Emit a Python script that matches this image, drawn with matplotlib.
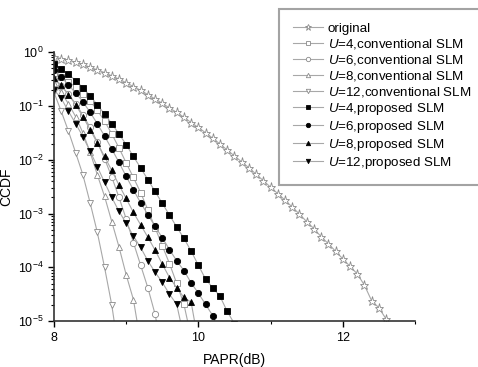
"""
CCDF of PAPR: original OFDM vs conventional / proposed SLM
"""

import numpy as np
import matplotlib
matplotlib.use("Agg")
import matplotlib.pyplot as plt

plt.rcParams["font.family"] = ["Liberation Sans", "DejaVu Sans"]
plt.rcParams["mathtext.fontset"] = "custom"
plt.rcParams["mathtext.rm"] = "Liberation Sans"
plt.rcParams["mathtext.it"] = "Liberation Sans:italic"

# PAPR grid in dB (0.1 dB steps, starting at 8 dB)
papr_db = np.round(np.arange(80, 130) / 10, 1)

# log10(CCDF) values
log_original = [-0.09, -0.12, -0.15, -0.19, -0.23, -0.28, -0.33, -0.38, -0.44, -0.50,
                -0.57, -0.64, -0.71, -0.79, -0.87, -0.95, -1.04, -1.12, -1.21, -1.31,
                -1.40, -1.50, -1.60, -1.71, -1.82, -1.93, -2.04, -2.15, -2.27, -2.39,
                -2.51, -2.63, -2.75, -2.88, -3.01, -3.15, -3.28, -3.43, -3.56, -3.70,
                -3.84, -3.98, -4.12, -4.33, -4.62, -4.75, -4.96]
log_conv_u4 = [-0.38, -0.46, -0.55, -0.65, -0.77, -0.91, -1.08, -1.28, -1.52, -1.78,
               -2.06, -2.33, -2.61, -2.93, -3.26, -3.60, -3.93, -4.30, -4.69, -5.30]
log_conv_u6 = [-0.50, -0.63, -0.78, -0.96, -1.17, -1.40, -1.67, -1.98, -2.32, -2.70,
               -3.10, -3.54, -3.96, -4.38, -4.87, -5.60]
log_conv_u8 = [-0.58, -0.75, -0.96, -1.20, -1.50, -1.86, -2.28, -2.68, -3.15, -3.62,
               -4.14, -4.60, -5.40]
log_conv_u12 = [-0.75, -1.10, -1.47, -1.87, -2.28, -2.80, -3.35, -4.00, -4.70, -5.60]
log_prop_u4 = [-0.22, -0.31, -0.41, -0.53, -0.66, -0.81, -0.98, -1.15, -1.33, -1.52,
               -1.72, -1.94, -2.15, -2.37, -2.59, -2.81, -3.03, -3.25, -3.46, -3.70,
               -3.96, -4.22, -4.38, -4.54, -4.82, -5.05]
log_prop_u6 = [-0.33, -0.46, -0.61, -0.76, -0.92, -1.12, -1.33, -1.56, -1.80, -2.05,
               -2.31, -2.56, -2.80, -3.02, -3.24, -3.45, -3.67, -3.88, -4.06, -4.29,
               -4.48, -4.69, -4.90, -5.30]
log_prop_u8 = [-0.48, -0.62, -0.79, -0.98, -1.20, -1.44, -1.69, -1.94, -2.20, -2.47,
               -2.72, -2.98, -3.21, -3.44, -3.68, -3.94, -4.19, -4.38, -4.56, -4.65,
               -5.40]
log_prop_u12 = [-0.70, -0.86, -1.10, -1.33, -1.57, -1.84, -2.13, -2.42, -2.70, -2.96,
                -3.18, -3.42, -3.63, -3.88, -4.09, -4.28, -4.50, -4.69, -5.30]

series = [
    ("original", log_original, "*", "white", "#8a8a8a"),
    ("$U$=4,conventional SLM", log_conv_u4, "s", "white", "#8a8a8a"),
    ("$U$=6,conventional SLM", log_conv_u6, "o", "white", "#8a8a8a"),
    ("$U$=8,conventional SLM", log_conv_u8, "^", "white", "#8a8a8a"),
    ("$U$=12,conventional SLM", log_conv_u12, "v", "white", "#8a8a8a"),
    ("$U$=4,proposed SLM", log_prop_u4, "s", "black", "black"),
    ("$U$=6,proposed SLM", log_prop_u6, "o", "black", "black"),
    ("$U$=8,proposed SLM", log_prop_u8, "^", "black", "black"),
    ("$U$=12,proposed SLM", log_prop_u12, "v", "black", "black"),
]

fig = plt.figure(figsize=(4.78, 3.67), dpi=100)
ax = fig.add_axes([0.113, 0.125, 0.755, 0.733])

for label, logs, marker, face, edge in series:
    x = papr_db[:len(logs)]
    y = 10.0 ** np.array(logs)
    ms = 6.5 if marker == "*" else 4.5
    ax.plot(x, y, color="#a8a8a8", lw=0.8, marker=marker, ms=ms,
            mfc=face, mec=edge, mew=0.6, label=label)

ax.set_yscale("log")
ax.set_xlim(8, 13)
ax.set_ylim(1e-5, 1)
ax.set_xticks([8, 10, 12])
ax.set_xticks([9, 11, 13], minor=True)
ax.set_yticks([1e0, 1e-1, 1e-2, 1e-3, 1e-4, 1e-5])
ax.spines["top"].set_visible(False)
ax.spines["right"].set_visible(False)
for s in ["left", "bottom"]:
    ax.spines[s].set_linewidth(1.2)
    ax.spines[s].set_color("#333333")
ax.tick_params(which="major", direction="out", length=4, width=1, labelsize=9)
ax.tick_params(which="minor", direction="out", length=2.5, width=0.8)
ax.set_xlabel("PAPR(dB)", fontsize=10, labelpad=7)
ax.set_ylabel("CCDF", fontsize=10, labelpad=3)

leg = fig.legend(loc="lower left", bbox_to_anchor=(279 / 478, 1 - 185 / 367),
                 fontsize=9.6, frameon=True, fancybox=False, handlelength=2.25,
                 handletextpad=0.37, labelspacing=0.15, borderpad=1.05,
                 markerscale=0.7, borderaxespad=0)
leg.get_frame().set_edgecolor("#8c8c8c")
leg.get_frame().set_linewidth(1.5)

fig.savefig("out.png", dpi=100)
